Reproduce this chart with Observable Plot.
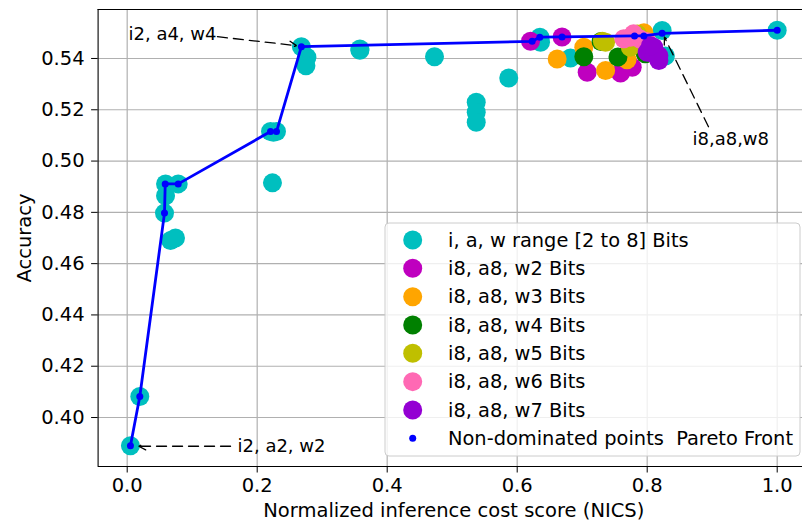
<!DOCTYPE html>
<html><head><meta charset="utf-8">
<script src="https://cdn.jsdelivr.net/npm/d3@7"></script>
<script src="https://cdn.jsdelivr.net/npm/@observablehq/plot@0.6"></script>
<style>body{margin:0;background:#fff} svg{display:block}</style>
</head><body><div id="chart"></div>
<script>
// ---- data ----
const seriesNames = [
  "i, a, w range [2 to 8] Bits",
  "i8, a8, w2 Bits",
  "i8, a8, w3 Bits",
  "i8, a8, w4 Bits",
  "i8, a8, w5 Bits",
  "i8, a8, w6 Bits",
  "i8, a8, w7 Bits"
];
const seriesColors = ["#00bfbf", "#bf00bf", "#ffa500", "#008000", "#bfbf00", "#ff69b4", "#9400d3"];
const paretoLabel = "Non-dominated points  Pareto Front";
const paretoColor = "#0000ff";

const rangeBits = [
  [0.005,0.389],[0.0194,0.4082],[0.0574,0.4797],[0.059,0.4865],[0.059,0.4911],[0.0785,0.4911],
  [0.0667,0.469],[0.0743,0.4700],[0.2235,0.4915],[0.2205,0.5115],[0.2297,0.5115],[0.2250,0.5112],
  [0.268,0.5446],[0.2765,0.5405],[0.275,0.5372],[0.358,0.5437],[0.358,0.5432],[0.4728,0.5407],
  [0.587,0.5324],[0.537,0.5229],[0.537,0.5190],[0.537,0.5151],[0.635,0.5483],[0.6359,0.5463],
  [0.682,0.5402],[0.828,0.5410],[0.823,0.5509],[1.0,0.551]
];
const w2Bits = [[0.6205,0.5467],[0.669,0.5484],[0.7077,0.5346],[0.759,0.5343],[0.777,0.5366]];
const w3Bits = [[0.6615,0.5398],[0.7025,0.5444],[0.736,0.5353],[0.769,0.5395],[0.795,0.5500]];
const w4Bits = [[0.7025,0.5407],[0.729,0.5466],[0.755,0.5406],[0.797,0.5418]];
const w5Bits = [[0.731,0.5467],[0.736,0.5463],[0.774,0.5444],[0.785,0.5495]];
const w6Bits = [[0.764,0.5477],[0.7743,0.5483],[0.779,0.5496],[0.789,0.5476],[0.800,0.5465]];
const w7Bits = [[0.800,0.5424],[0.810,0.5418],[0.818,0.5392],[0.810,0.5444],[0.818,0.5411],[0.805,0.5450]];
const seriesValues = [rangeBits, w2Bits, w3Bits, w4Bits, w5Bits, w6Bits, w7Bits];

const paretoFront = [
  [0.005,0.389],[0.0194,0.4082],[0.0574,0.4797],[0.0585,0.4911],[0.0785,0.4911],[0.2205,0.5115],
  [0.2297,0.5115],[0.268,0.5446],[0.623,0.5467],[0.6348,0.5483],[0.669,0.5484],[0.7805,0.5488],
  [0.7948,0.5488],[0.823,0.5498],[1.0,0.551]
];

const xTicks = [0.0, 0.2, 0.4, 0.6, 0.8, 1.0];
const yTicks = [0.40, 0.42, 0.44, 0.46, 0.48, 0.50, 0.52, 0.54];
const xLabel = "Normalized inference cost score (NICS)";
const yLabel = "Accuracy";

const annotations = [
  {label: "i2, a4, w4", tx: 0.002, ty: 0.5493, x1: 0.1389, y1: 0.5485, x2: 0.2605, y2: 0.5450},
  {label: "i2, a2, w2", tx: 0.1697, ty: 0.3887, x1: 0.159, y1: 0.3888, x2: 0.0178, y2: 0.3888},
  {label: "i8,a8,w8", tx: 0.8697, ty: 0.5084, x1: 0.8943, y1: 0.5134, x2: 0.8266, y2: 0.5483}
];

// ---- build ----
const points = seriesValues.flatMap((arr, i) => arr.map(([x, y]) => ({x, y, series: seriesNames[i]})));
const front = paretoFront.map(([x, y]) => ({x, y}));

const W = 802, H = 526, mL = 97.6, mT = 9, mB = 60;
const xDomain = [-0.04475, 1.04975];
const pxPerUnit = 650;
const xRange = [mL, mL + (xDomain[1] - xDomain[0]) * pxPerUnit];
const yDomain = [0.3809, 0.5591];
const font = "DejaVu Sans";
const fs = 19.5;

const chart = Plot.plot({
  width: W, height: H,
  marginLeft: mL, marginTop: mT, marginBottom: mB, marginRight: 0,
  x: {domain: xDomain, range: xRange},
  y: {domain: yDomain},
  color: {domain: seriesNames, range: seriesColors},
  style: {fontFamily: font, fontSize: fs + "px", background: "white", color: "black", overflow: "hidden"},
  marks: [
    Plot.gridX(xTicks, {stroke: "#b0b0b0", strokeOpacity: 1, strokeWidth: 1.2}),
    Plot.gridY(yTicks, {stroke: "#b0b0b0", strokeOpacity: 1, strokeWidth: 1.2}),
    Plot.dot(points, {x: "x", y: "y", fill: "series", r: 9.5}),
    Plot.line(front, {x: "x", y: "y", stroke: paretoColor, strokeWidth: 2.8}),
    Plot.dot(front, {x: "x", y: "y", fill: paretoColor, r: 3.5}),
    Plot.ruleX([xDomain[0]], {stroke: "black", strokeWidth: 1.1}),
    Plot.ruleY(yDomain, {stroke: "black", strokeWidth: 1.1}),
    Plot.axisX(xTicks, {tickSize: 6.5, tickPadding: 5, fontSize: fs, tickFormat: d3.format(".1f"), label: null}),
    Plot.axisY(yTicks, {tickSize: 6.5, tickPadding: 7, fontSize: fs, tickFormat: d3.format(".2f"), label: null}),
    Plot.arrow(annotations, {x1: "x1", y1: "y1", x2: "x2", y2: "y2", stroke: "black", strokeWidth: 1.3,
      strokeDasharray: "10,6", headLength: 9, headAngle: 55}),
    Plot.text(annotations, {x: "tx", y: "ty", text: "label", textAnchor: "start", lineAnchor: "middle", fontSize: 18, fill: "black"}),
    Plot.text([yLabel], {frameAnchor: "left", dx: -73, rotate: -90, textAnchor: "middle", lineAnchor: "middle", fontSize: fs, fill: "black"}),
    Plot.text([xLabel], {frameAnchor: "bottom", dx: 3.5, dy: 44, textAnchor: "middle", lineAnchor: "middle", fontSize: fs, fill: "black"})
  ]
});
document.getElementById("chart").appendChild(chart);

// ---- legend inside the axes, lower right ----
const legendBox = {x: 385, y: 223, w: 415, h: 233, rowStart: 240, rowStep: 28.33, markerX: 412.7, textX: 448};
const legendItems = seriesNames.map((name, i) => ({name, color: seriesColors[i], r: 9.5}))
  .concat([{name: paretoLabel, color: paretoColor, r: 3.5}]);
const lg = d3.select(chart).append("g").attr("font-family", font).attr("font-size", 19.4).attr("text-anchor", "start");
lg.append("rect").attr("x", legendBox.x).attr("y", legendBox.y).attr("width", legendBox.w).attr("height", legendBox.h)
  .attr("rx", 4).attr("fill", "white").attr("fill-opacity", 0.8).attr("stroke", "#cccccc").attr("stroke-width", 1);
legendItems.forEach((d, i) => {
  const cy = legendBox.rowStart + i * legendBox.rowStep;
  lg.append("circle").attr("cx", legendBox.markerX).attr("cy", cy).attr("r", d.r).attr("fill", d.color);
  lg.append("text").attr("x", legendBox.textX).attr("y", cy).attr("dy", "0.35em").attr("fill", "black")
    .attr("text-anchor", "start").style("white-space", "pre").text(d.name);
});
</script></body></html>
